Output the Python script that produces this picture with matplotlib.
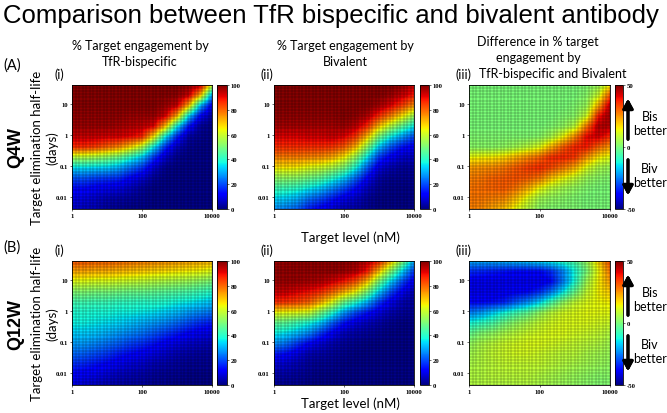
import numpy as np
import matplotlib.pyplot as plt

# sample points (13 x 13 per panel)
# columns: log10 target level (nM), rows: log10 half-life (days), top row first
x_log = [0, 0.33, 0.67, 1, 1.33, 1.67, 2, 2.33, 2.67, 3, 3.33, 3.67, 4]
y_log = [1.62, 1.29, 0.95, 0.62, 0.29, -0.05, -0.38, -0.71, -1.05, -1.38, -1.71, -2.05, -2.38]

xtick_pos = [0, 2, 4]
xtick_lab = ['1', '100', '10000']
ytick_pos = [-2, -1, 0, 1]
ytick_lab = ['0.01', '0.1', '1', '10']

te_bis_q4w = [
    [99, 99, 99, 99, 99, 99, 99, 99, 99, 99, 98, 94, 62],
    [99, 99, 99, 99, 99, 99, 99, 99, 99, 98, 93, 71, 28],
    [99, 99, 99, 99, 99, 99, 99, 99, 97, 93, 71, 31, 10],
    [98, 98, 98, 98, 98, 97, 97, 97, 92, 72, 34, 12, 3],
    [97, 97, 97, 97, 96, 95, 94, 91, 70, 36, 14, 3, 1],
    [93, 93, 93, 92, 92, 90, 87, 66, 36, 16, 4, 2, 1],
    [86, 86, 84, 80, 76, 68, 57, 36, 17, 6, 2, 1, 1],
    [57, 57, 55, 52, 48, 40, 32, 18, 7, 2, 1, 1, 1],
    [35, 35, 34, 33, 30, 24, 18, 8, 2, 1, 1, 1, 1],
    [21, 21, 19, 18, 17, 12, 8, 3, 1, 1, 1, 1, 1],
    [13, 13, 11, 10, 9, 6, 3, 1, 1, 1, 1, 1, 1],
    [9, 9, 7, 5, 4, 3, 2, 1, 1, 1, 1, 1, 1],
    [7, 6, 5, 3, 2, 1, 1, 1, 1, 1, 1, 1, 1],
]

te_biv_q4w = [
    [99, 99, 99, 99, 99, 99, 99, 99, 99, 99, 99, 97, 93],
    [99, 99, 99, 99, 99, 99, 99, 99, 99, 99, 97, 93, 88],
    [99, 99, 99, 99, 99, 99, 99, 99, 99, 96, 91, 84, 75],
    [98, 98, 98, 98, 98, 98, 99, 98, 95, 86, 77, 66, 54],
    [96, 96, 96, 96, 96, 96, 97, 94, 86, 70, 57, 46, 36],
    [91, 91, 91, 92, 92, 93, 91, 85, 70, 50, 37, 28, 20],
    [86, 86, 86, 86, 86, 85, 81, 71, 52, 32, 21, 14, 11],
    [77, 77, 77, 76, 75, 72, 65, 53, 35, 18, 11, 7, 6],
    [66, 66, 65, 62, 60, 56, 50, 38, 22, 9, 5, 3, 3],
    [53, 53, 52, 49, 46, 40, 33, 23, 12, 4, 2, 2, 2],
    [43, 42, 40, 36, 32, 26, 20, 13, 6, 2, 1, 1, 1],
    [34, 33, 30, 24, 20, 15, 10, 7, 3, 1, 1, 1, 1],
    [27, 25, 22, 15, 11, 8, 5, 4, 2, 1, 1, 1, 1],
]

diff_q4w = [
    [0, 0, 0, 0, 0, 0, 0, 0, 0, 0, 1, 4, 15],
    [0, 0, 0, 0, 0, 0, 0, 0, 0, 0, 2, 10, 32],
    [0, 0, 0, 0, 0, 0, 0, 0, 0, 1, 4, 22, 45],
    [0, 0, 0, 0, 0, 0, 0, 0, 1, 2, 10, 38, 47],
    [0, 0, 0, 0, 0, 0, 0, 1, 3, 8, 28, 45, 45],
    [1, 1, 1, 1, 1, 1, 2, 6, 14, 26, 40, 42, 36],
    [2, 2, 2, 3, 5, 8, 12, 22, 31, 37, 38, 30, 24],
    [14, 15, 16, 18, 22, 26, 30, 36, 37, 35, 25, 16, 12],
    [24, 25, 26, 28, 31, 34, 36, 33, 28, 22, 12, 6, 4],
    [27, 28, 30, 31, 32, 31, 28, 20, 14, 9, 4, 2, 1],
    [28, 29, 30, 31, 28, 22, 14, 8, 5, 3, 1, 0, 0],
    [28, 28, 27, 26, 20, 12, 5, 3, 2, 1, 0, 0, 0],
    [27, 26, 23, 20, 13, 7, 2, 1, 1, 1, 0, 0, 0],
]

te_bis_q12w = [
    [82, 82, 81, 81, 80, 79, 78, 77, 76, 75, 74, 73, 72],
    [73, 73, 72, 72, 71, 70, 69, 68, 67, 66, 65, 64, 62],
    [62, 62, 61, 61, 60, 59, 58, 57, 56, 55, 54, 52, 50],
    [51, 51, 50, 50, 49, 48, 48, 47, 46, 45, 44, 42, 40],
    [43, 43, 42, 42, 41, 41, 40, 40, 39, 37, 36, 34, 32],
    [39, 39, 38, 38, 37, 37, 36, 35, 33, 31, 28, 26, 24],
    [37, 37, 36, 35, 34, 32, 30, 28, 26, 23, 20, 17, 15],
    [33, 33, 32, 30, 28, 26, 24, 21, 18, 15, 12, 10, 9],
    [28, 28, 26, 24, 22, 19, 17, 14, 11, 9, 7, 6, 5],
    [23, 22, 20, 18, 15, 13, 11, 9, 7, 5, 4, 3, 3],
    [17, 16, 14, 12, 10, 8, 7, 5, 4, 3, 2, 2, 2],
    [12, 11, 10, 8, 6, 5, 4, 3, 2, 2, 1, 1, 1],
    [9, 8, 6, 5, 4, 3, 3, 2, 2, 1, 1, 1, 1],
]

te_biv_q12w = [
    [97, 97, 98, 98, 98, 98, 98, 97, 94, 88, 72, 52, 30],
    [98, 98, 98, 98, 98, 98, 97, 95, 88, 70, 52, 34, 18],
    [97, 97, 97, 96, 95, 92, 88, 82, 70, 50, 34, 20, 10],
    [93, 93, 91, 89, 86, 80, 72, 64, 50, 33, 20, 11, 5],
    [86, 85, 83, 80, 72, 62, 48, 40, 30, 18, 10, 5, 3],
    [64, 63, 62, 60, 50, 40, 28, 20, 14, 9, 5, 3, 2],
    [47, 46, 42, 38, 32, 22, 14, 9, 6, 4, 2, 1, 1],
    [37, 35, 31, 26, 18, 11, 6, 4, 3, 2, 1, 1, 1],
    [27, 24, 18, 12, 8, 5, 3, 2, 1, 1, 1, 1, 1],
    [15, 13, 9, 5, 4, 3, 2, 1, 1, 1, 1, 1, 1],
    [8, 7, 5, 3, 2, 2, 1, 1, 1, 1, 1, 1, 1],
    [4, 4, 3, 2, 1, 1, 1, 1, 1, 1, 1, 1, 1],
    [3, 2, 2, 1, 1, 1, 1, 1, 1, 1, 1, 1, 1],
]

diff_q12w = [
    [-20, -20, -20, -19, -18, -17, -15, -12, -9, -5, 4, 18, 33],
    [-33, -34, -35, -36, -37, -37, -37, -33, -24, -12, 0, 14, 28],
    [-40, -40, -40, -40, -40, -40, -40, -37, -25, -11, 5, 15, 24],
    [-40, -40, -40, -39, -38, -37, -33, -25, -14, -2, 9, 15, 19],
    [-37, -37, -36, -34, -28, -23, -16, -6, 3, 9, 12, 14, 15],
    [-25, -22, -17, -12, -7, -3, 3, 8, 11, 12, 13, 13, 13],
    [-12, -9, -6, -1, 3, 6, 9, 11, 12, 12, 12, 11, 10],
    [-3, 1, 3, 6, 8, 10, 11, 12, 12, 11, 10, 9, 7],
    [3, 6, 8, 10, 11, 12, 12, 11, 10, 9, 8, 7, 5],
    [5, 7, 9, 10, 11, 11, 10, 9, 8, 8, 6, 5, 4],
    [6, 7, 8, 9, 9, 9, 9, 8, 7, 6, 5, 4, 3],
    [7, 7, 8, 8, 8, 8, 7, 6, 5, 4, 3, 2, 2],
    [7, 7, 7, 7, 7, 7, 6, 5, 4, 3, 2, 1, 1],
]

W, H = 667, 414
fig = plt.figure(figsize=(W / 100, H / 100), dpi=100)

def box(l, t, r, b):
    return [l / W, 1 - b / H, (r - l) / W, (b - t) / H]

def fx(x):
    return x / W

def fy(y):
    return 1 - y / H

tick_font = dict(family='Liberation Serif', size=4.8, weight='bold')
label_font = 'Lato'

dx = (x_log[-1] - x_log[0]) / (len(x_log) - 1)
dy = (y_log[0] - y_log[-1]) / (len(y_log) - 1)
ext = [x_log[0] - dx / 2, x_log[-1] + dx / 2, y_log[-1] - dy / 2, y_log[0] + dy / 2]

cols = [(72, 212), (274, 414), (469, 610)]
cbars = [(217, 227), (420, 429), (615, 623)]
rows = [(86, 210), (262, 386)]

panels = [
    [te_bis_q4w, te_biv_q4w, diff_q4w],
    [te_bis_q12w, te_biv_q12w, diff_q12w],
]

arrow_style = dict(arrowstyle='-|>,head_width=0.3,head_length=0.55',
                   lw=2.2, color='k', mutation_scale=10)

for r, (t, b) in enumerate(rows):
    for c, (l, rr) in enumerate(cols):
        data = np.array(panels[r][c])
        if c < 2:
            vmin, vmax, cticks = 0, 100, [0, 20, 40, 60, 80, 100]
        else:
            vmin, vmax, cticks = -50, 50, [-50, 0, 50]
        ax = fig.add_axes(box(l, t, rr, b))
        im = ax.imshow(data, cmap='jet', vmin=vmin, vmax=vmax, extent=ext,
                       aspect='auto', interpolation='bilinear',
                       interpolation_stage='data')
        ax.set_xlim(x_log[0], x_log[-1])
        ax.set_ylim(y_log[-1], y_log[0])
        # mesh lines of the simulation grid
        ax.vlines(np.linspace(x_log[0], x_log[-1], 41), y_log[-1], y_log[0],
                  color='k', lw=0.35, alpha=0.5)
        ax.hlines(np.linspace(y_log[-1], y_log[0], 41), x_log[0], x_log[-1],
                  color='k', lw=0.35, alpha=0.5)
        ax.set_xticks(xtick_pos)
        ax.set_xticklabels(xtick_lab, fontdict=tick_font)
        ax.set_yticks(ytick_pos)
        ax.set_yticklabels(ytick_lab, fontdict=tick_font)
        ax.tick_params(length=1.5, width=0.4, pad=1.5)
        for s in ax.spines.values():
            s.set_linewidth(0.6)

        cl, cr = cbars[c]
        cax = fig.add_axes(box(cl, t, cr, b))
        cb = fig.colorbar(im, cax=cax, ticks=cticks)
        cb.ax.set_yticklabels([str(v) for v in cticks], fontdict=tick_font)
        cb.ax.tick_params(length=1.5, width=0.4, pad=1)
        cb.outline.set_linewidth(0.6)

        # Bis / Biv better arrows next to the difference colorbar
        if c == 2:
            mid = (t + b) / 2
            fig.add_artist(plt.annotate('', xy=(fx(628), fy(t + 11)), xytext=(fx(628), fy(mid - 5)),
                                        xycoords='figure fraction', arrowprops=arrow_style))
            fig.add_artist(plt.annotate('', xy=(fx(628), fy(b - 11)), xytext=(fx(628), fy(mid + 10)),
                                        xycoords='figure fraction', arrowprops=arrow_style))
            fig.text(fx(650), fy(mid - 24), 'Bis\nbetter', ha='center', va='center',
                     fontsize=9, family=label_font, linespacing=1.25)
            fig.text(fx(650), fy(mid + 28), 'Biv\nbetter', ha='center', va='center',
                     fontsize=9, family=label_font, linespacing=1.25)

# titles and labels
fig.text(0.496, fy(16), 'Comparison between TfR bispecific and bivalent antibody',
         ha='center', va='center', fontsize=18.5, family='Liberation Sans')

fig.text(fx(140), fy(54), '% Target engagement by\nTfR-bispecific', ha='center', va='center',
         fontsize=9, family=label_font, linespacing=1.3)
fig.text(fx(345), fy(54), '% Target engagement by\nBivalent', ha='center', va='center',
         fontsize=9, family=label_font, linespacing=1.3)
fig.text(fx(538), fy(50), 'Difference in % target\nengagement by', ha='center', va='center',
         fontsize=9, family=label_font, linespacing=1.3)
fig.text(fx(553), fy(74), 'TfR-bispecific and Bivalent', ha='center', va='center',
         fontsize=9, family=label_font)

for lab, y in [('(A)', 66), ('(B)', 248)]:
    fig.text(fx(3), fy(y), lab, ha='left', va='center', fontsize=10.5, family=label_font)
for y in [75, 251]:
    for lab, x in [('(i)', 59), ('(ii)', 267), ('(iii)', 463)]:
        fig.text(fx(x), fy(y), lab, ha='center', va='center', fontsize=9, family=label_font)

for name, (t, b) in zip(['Q4W', 'Q12W'], rows):
    mid = (t + b) / 2
    fig.text(fx(16), fy(mid), name, rotation=90, ha='center', va='center',
             fontsize=13, weight='bold', family='Liberation Sans')
    fig.text(fx(37), fy(mid), 'Target elimination half-life', rotation=90,
             ha='center', va='center', fontsize=9.5, family=label_font)
    fig.text(fx(52), fy(mid), '(days)', rotation=90,
             ha='center', va='center', fontsize=9.5, family=label_font)

for y in [238, 404]:
    fig.text(fx(350), fy(y), 'Target level (nM)', ha='center', va='center',
             fontsize=9.5, family=label_font)

fig.savefig('out.png', dpi=100)
